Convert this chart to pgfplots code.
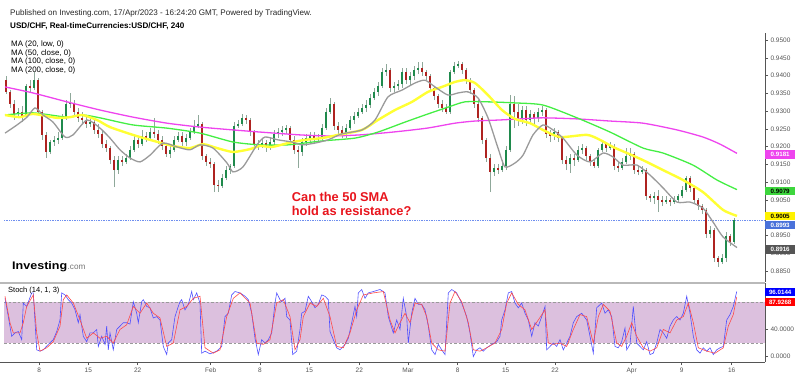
\documentclass[border=0pt]{standalone}
\usepackage{graphicx}
\usepackage{pgfplots}
\pgfplotsset{compat=1.18}
\usepackage{pgfplotstable}
\usepackage{fontspec}
\setmainfont{Liberation Sans}
\definecolor{upc}{HTML}{1F8A4C}
\definecolor{dnc}{HTML}{AE2320}
\definecolor{wick}{HTML}{8FA89A}
\definecolor{ma20}{HTML}{9A9A9A}
\definecolor{ma50}{HTML}{FFFF33}
\definecolor{ma100}{HTML}{44EE44}
\definecolor{ma200}{HTML}{EE44EE}
\definecolor{dotb}{HTML}{6F8FEF}
\definecolor{band}{HTML}{DCC0DE}
\definecolor{kcol}{HTML}{5050FF}
\definecolor{dcol}{HTML}{FF4A4A}
\definecolor{axg}{HTML}{555555}
\definecolor{annred}{HTML}{E8141C}
\definecolor{boxblue}{HTML}{4A72DA}

\pgfplotstableread{
x o h l c
6 0.9387 0.9399 0.9348 0.9354
10 0.9354 0.9359 0.9309 0.9320
14 0.9320 0.9331 0.9275 0.9292
18 0.9292 0.9309 0.9281 0.9297
22 0.9297 0.9314 0.9269 0.9286
26 0.9286 0.9376 0.9281 0.9371
30 0.9371 0.9387 0.9354 0.9365
34 0.9365 0.9410 0.9359 0.9387
38 0.9387 0.9393 0.9292 0.9297
42 0.9297 0.9303 0.9219 0.9233
46 0.9233 0.9241 0.9168 0.9185
50 0.9185 0.9219 0.9179 0.9213
54 0.9213 0.9230 0.9202 0.9219
58 0.9219 0.9241 0.9207 0.9224
62 0.9224 0.9292 0.9219 0.9281
66 0.9281 0.9331 0.9275 0.9320
70 0.9320 0.9351 0.9309 0.9323
74 0.9323 0.9331 0.9286 0.9297
78 0.9297 0.9309 0.9269 0.9281
82 0.9281 0.9297 0.9264 0.9275
86 0.9275 0.9286 0.9252 0.9264
90 0.9264 0.9281 0.9255 0.9269
94 0.9269 0.9275 0.9236 0.9247
98 0.9247 0.9264 0.9224 0.9236
102 0.9236 0.9247 0.9196 0.9207
106 0.9207 0.9219 0.9185 0.9196
110 0.9196 0.9202 0.9151 0.9162
114 0.9162 0.9174 0.9086 0.9134
118 0.9134 0.9174 0.9123 0.9162
122 0.9162 0.9174 0.9146 0.9157
126 0.9157 0.9179 0.9151 0.9168
130 0.9168 0.9202 0.9162 0.9191
134 0.9191 0.9236 0.9185 0.9219
138 0.9219 0.9230 0.9196 0.9207
142 0.9207 0.9247 0.9202 0.9230
146 0.9230 0.9241 0.9213 0.9224
150 0.9224 0.9252 0.9219 0.9241
154 0.9241 0.9281 0.9224 0.9236
158 0.9236 0.9247 0.9207 0.9219
162 0.9219 0.9230 0.9191 0.9202
166 0.9202 0.9207 0.9171 0.9179
170 0.9179 0.9202 0.9168 0.9191
174 0.9191 0.9230 0.9185 0.9219
178 0.9219 0.9241 0.9213 0.9230
182 0.9230 0.9241 0.9202 0.9213
186 0.9213 0.9236 0.9202 0.9224
190 0.9224 0.9252 0.9219 0.9241
194 0.9241 0.9275 0.9236 0.9258
198 0.9258 0.9289 0.9252 0.9264
202 0.9264 0.9269 0.9162 0.9174
206 0.9174 0.9179 0.9146 0.9157
210 0.9157 0.9168 0.9140 0.9151
214 0.9151 0.9157 0.9072 0.9092
218 0.9092 0.9106 0.9072 0.9089
222 0.9089 0.9123 0.9084 0.9112
226 0.9112 0.9146 0.9106 0.9134
230 0.9134 0.9151 0.9123 0.9146
234 0.9146 0.9269 0.9140 0.9258
238 0.9258 0.9275 0.9252 0.9264
242 0.9264 0.9292 0.9258 0.9281
246 0.9281 0.9289 0.9264 0.9275
250 0.9275 0.9281 0.9230 0.9241
254 0.9241 0.9247 0.9196 0.9207
258 0.9207 0.9219 0.9191 0.9205
262 0.9205 0.9224 0.9196 0.9210
266 0.9210 0.9219 0.9185 0.9199
270 0.9199 0.9224 0.9191 0.9213
274 0.9213 0.9247 0.9202 0.9236
278 0.9236 0.9252 0.9224 0.9241
282 0.9241 0.9258 0.9230 0.9247
286 0.9247 0.9261 0.9236 0.9252
290 0.9252 0.9258 0.9207 0.9219
294 0.9219 0.9230 0.9179 0.9191
298 0.9191 0.9202 0.9140 0.9185
302 0.9185 0.9224 0.9174 0.9213
306 0.9213 0.9236 0.9202 0.9224
310 0.9224 0.9241 0.9213 0.9230
314 0.9230 0.9241 0.9207 0.9219
318 0.9219 0.9236 0.9210 0.9224
322 0.9224 0.9264 0.9219 0.9252
326 0.9252 0.9309 0.9247 0.9297
330 0.9297 0.9337 0.9292 0.9320
334 0.9320 0.9326 0.9247 0.9258
338 0.9258 0.9269 0.9236 0.9247
342 0.9247 0.9258 0.9224 0.9236
346 0.9236 0.9264 0.9224 0.9252
350 0.9252 0.9286 0.9247 0.9275
354 0.9275 0.9297 0.9264 0.9286
358 0.9286 0.9309 0.9281 0.9297
362 0.9297 0.9320 0.9292 0.9309
366 0.9309 0.9331 0.9297 0.9317
370 0.9317 0.9348 0.9309 0.9337
374 0.9337 0.9365 0.9331 0.9354
378 0.9354 0.9382 0.9343 0.9371
382 0.9371 0.9421 0.9365 0.9410
386 0.9410 0.9433 0.9399 0.9416
390 0.9416 0.9421 0.9354 0.9365
394 0.9365 0.9382 0.9354 0.9371
398 0.9371 0.9387 0.9359 0.9376
402 0.9376 0.9421 0.9365 0.9410
406 0.9410 0.9421 0.9376 0.9387
410 0.9387 0.9410 0.9371 0.9399
414 0.9399 0.9427 0.9387 0.9416
418 0.9416 0.9438 0.9404 0.9421
422 0.9421 0.9438 0.9399 0.9410
426 0.9410 0.9416 0.9387 0.9399
430 0.9399 0.9404 0.9354 0.9365
434 0.9365 0.9371 0.9331 0.9343
438 0.9343 0.9348 0.9309 0.9320
442 0.9320 0.9331 0.9297 0.9309
446 0.9309 0.9320 0.9292 0.9297
450 0.9297 0.9416 0.9292 0.9410
454 0.9410 0.9438 0.9404 0.9427
458 0.9427 0.9441 0.9421 0.9433
462 0.9433 0.9438 0.9404 0.9416
466 0.9416 0.9421 0.9376 0.9387
470 0.9387 0.9393 0.9348 0.9359
474 0.9359 0.9365 0.9309 0.9320
478 0.9320 0.9331 0.9269 0.9281
482 0.9281 0.9286 0.9207 0.9219
486 0.9219 0.9224 0.9157 0.9168
490 0.9168 0.9179 0.9072 0.9129
494 0.9129 0.9151 0.9117 0.9140
498 0.9140 0.9151 0.9123 0.9134
502 0.9134 0.9162 0.9129 0.9146
506 0.9146 0.9202 0.9134 0.9191
510 0.9191 0.9345 0.9185 0.9320
514 0.9320 0.9343 0.9252 0.9297
518 0.9297 0.9320 0.9258 0.9281
522 0.9281 0.9314 0.9264 0.9303
526 0.9303 0.9314 0.9258 0.9275
530 0.9275 0.9303 0.9264 0.9292
534 0.9292 0.9297 0.9264 0.9281
538 0.9281 0.9309 0.9269 0.9297
542 0.9297 0.9314 0.9286 0.9303
546 0.9303 0.9309 0.9224 0.9236
550 0.9236 0.9247 0.9213 0.9230
554 0.9230 0.9252 0.9219 0.9241
558 0.9241 0.9247 0.9213 0.9224
562 0.9224 0.9230 0.9151 0.9162
566 0.9162 0.9174 0.9134 0.9151
570 0.9151 0.9179 0.9126 0.9168
574 0.9168 0.9179 0.9146 0.9162
578 0.9162 0.9202 0.9157 0.9191
582 0.9191 0.9207 0.9179 0.9196
586 0.9196 0.9202 0.9162 0.9174
590 0.9174 0.9179 0.9146 0.9157
594 0.9157 0.9162 0.9140 0.9146
598 0.9146 0.9196 0.9140 0.9191
602 0.9191 0.9219 0.9185 0.9207
606 0.9207 0.9213 0.9185 0.9196
610 0.9196 0.9213 0.9191 0.9202
614 0.9202 0.9207 0.9134 0.9146
618 0.9146 0.9157 0.9129 0.9140
622 0.9140 0.9168 0.9134 0.9157
626 0.9157 0.9196 0.9151 0.9174
630 0.9174 0.9196 0.9162 0.9179
634 0.9179 0.9185 0.9123 0.9134
638 0.9134 0.9146 0.9120 0.9129
642 0.9129 0.9146 0.9123 0.9134
646 0.9134 0.9140 0.9050 0.9061
650 0.9061 0.9067 0.9044 0.9055
654 0.9055 0.9072 0.9039 0.9061
658 0.9061 0.9078 0.9016 0.9050
662 0.9050 0.9061 0.9033 0.9044
666 0.9044 0.9061 0.9039 0.9050
670 0.9050 0.9055 0.9033 0.9044
674 0.9044 0.9061 0.9039 0.9050
678 0.9050 0.9067 0.9044 0.9061
682 0.9061 0.9089 0.9055 0.9078
686 0.9078 0.9117 0.9072 0.9112
690 0.9112 0.9117 0.9072 0.9084
694 0.9084 0.9089 0.9039 0.9050
698 0.9050 0.9055 0.9022 0.9033
702 0.9033 0.9039 0.9010 0.9022
706 0.9022 0.9027 0.8943 0.8954
710 0.8954 0.8977 0.8943 0.8965
714 0.8965 0.8971 0.8875 0.8887
718 0.8887 0.8892 0.8861 0.8875
722 0.8875 0.8898 0.8870 0.8887
726 0.8887 0.8960 0.8875 0.8949
730 0.8949 0.8954 0.8920 0.8932
734 0.8932 0.8999 0.8926 0.8993
}\candles

\pgfplotstableread{
x v
5 0.9238
17 0.9261
27 0.9283
35 0.9309
43 0.9289
53 0.9269
65 0.9227
73 0.9233
87 0.9275
100 0.9252
110 0.9224
120 0.9191
130 0.9168
140 0.9157
150 0.9176
163 0.9210
177 0.9199
190 0.9191
200 0.9205
213 0.9196
227 0.9154
233 0.9129
243 0.9143
257 0.9205
265 0.9227
278 0.9219
292 0.9213
302 0.9205
315 0.9210
328 0.9219
342 0.9236
362 0.9247
375 0.9275
388 0.9340
402 0.9359
415 0.9379
425 0.9387
435 0.9368
448 0.9345
458 0.9351
468 0.9354
478 0.9337
488 0.9281
498 0.9196
505 0.9143
515 0.9154
523 0.9176
533 0.9233
543 0.9261
553 0.9247
563 0.9224
577 0.9176
590 0.9157
603 0.9182
613 0.9171
623 0.9148
637 0.9148
650 0.9120
663 0.9084
677 0.9044
690 0.9044
703 0.9027
713 0.8988
723 0.8946
737 0.8916
}\maA

\pgfplotstableread{
x v
5 0.9289
20 0.9283
33 0.9292
57 0.9281
70 0.9283
82 0.9289
97 0.9275
110 0.9255
133 0.9233
150 0.9219
173 0.9202
190 0.9196
203 0.9207
217 0.9196
233 0.9185
250 0.9193
260 0.9202
272 0.9199
288 0.9210
305 0.9219
322 0.9224
338 0.9233
362 0.9247
378 0.9275
395 0.9303
412 0.9326
428 0.9354
442 0.9368
455 0.9382
465 0.9387
475 0.9379
488 0.9345
502 0.9303
515 0.9278
530 0.9266
543 0.9247
560 0.9227
587 0.9233
600 0.9219
613 0.9199
627 0.9182
643 0.9162
663 0.9134
683 0.9106
703 0.9072
723 0.9022
737 0.9005
}\maB

\pgfplotstableread{
x v
5 0.9289
33 0.9295
67 0.9283
83 0.9289
100 0.9281
133 0.9261
167 0.9252
200 0.9238
233 0.9213
260 0.9205
288 0.9205
322 0.9216
355 0.9224
378 0.9241
405 0.9269
428 0.9292
448 0.9311
465 0.9326
488 0.9326
515 0.9323
543 0.9317
577 0.9281
610 0.9241
643 0.9196
663 0.9182
693 0.9148
717 0.9106
737 0.9079
}\maC

\pgfplotstableread{
x v
5 0.9368
33 0.9351
67 0.9326
100 0.9303
133 0.9283
167 0.9266
200 0.9255
233 0.9247
260 0.9241
300 0.9233
330 0.9230
360 0.9233
393 0.9241
427 0.9252
455 0.9266
475 0.9272
500 0.9275
520 0.9278
543 0.9281
577 0.9278
610 0.9272
643 0.9266
677 0.9247
703 0.9227
720 0.9207
737 0.9181
}\maD

\pgfplotstableread{
x k
5 86
8.3 59
11.7 30
15 35
18.3 37
21.7 25
23.3 79
26.7 74
31.7 94
33.3 94
36.7 10
40 8
43.3 10
48.3 18
53.3 25
56.7 37
60 54
61.7 94
65 91
68.3 84
71.7 79
75 69
78.3 50
80 62
83.3 30
86.7 22
90 35
93.3 35
96.7 40
98.3 15
101.7 30
105 18
106.7 45
108.3 10
110 35
113.3 10
116.7 40
120 45
123.3 50
126.7 50
130 48
133.3 81
136.7 64
138.3 50
141.7 81
143.3 84
146.7 74
150 72
153.3 57
156.7 59
160 54
163.3 15
166.7 3
168.3 20
171.7 25
175 59
178.3 74
180 81
181.7 84
185 69
188.3 77
191.7 96
193.3 84
196.7 94
200 79
201.7 5
205 8
210 4
216.7 8
221.7 15
225 59
228.3 64
231.7 91
235 96
240 94
245 89
248.3 84
251.7 64
255 27
258.3 3
261.7 25
265 20
268.3 25
271.7 35
275 79
276.7 94
280 84
281.7 81
285 86
286.7 59
290 54
292.7 3
296.7 8
300 40
301.7 64
305 67
308.3 89
311.7 81
315 72
318.3 77
321.7 91
325 89
328.3 84
330 37
333.3 25
336.7 13
340 10
345 18
348.3 27
351.7 50
355 74
356.7 59
358.3 94
361.7 99
365 86
368.3 94
373.3 96
380 99
383.3 96
385 94
388.3 59
393.3 35
396.7 54
400 40
403.3 86
406.7 59
408.3 20
411.7 64
415 86
418.3 77
421.7 77
425 69
428.3 45
431.7 10
435 3
438.3 18
441.7 10
445 3
448.3 94
451.7 99
456.7 94
461.7 79
466.7 59
470 35
473.3 0
476.7 10
480 13
483.3 8
486.7 13
491.7 18
496.7 22
500 30
501.7 54
505 69
508.3 94
511.7 96
515 79
518.3 72
521.7 79
525 64
528.3 54
531.7 30
535 50
538.3 45
541.7 59
545 74
546.7 10
550 15
553.3 20
556.7 15
560 25
563.3 10
566.7 20
570 30
573.3 50
576.7 59
581.7 64
586.7 54
590 30
593.3 5
596.7 72
601.7 79
605 64
608.3 69
611.7 59
615 15
618.3 13
621.7 22
625 42
626.7 10
630 18
633.3 74
636.7 20
640 15
643.3 10
646.7 22
650 3
653.3 5
656.7 20
660 40
663.3 35
666.7 27
670 45
673.3 54
676.7 59
680 54
683.3 64
686.7 89
690 64
693.3 30
696.7 10
700 5
703.3 13
706.7 8
710 13
713.3 3
716.7 10
720 13
723.3 15
726.7 54
730 62
733.3 74
736.7 96
}\stochK

\pgfplotstableread{
x d
5 89
10 50
13.3 35
20 35
23.3 50
26.7 74
33.3 91
36.7 35
40 8
46.7 13
53.3 22
60 45
63.3 84
66.7 91
73.3 79
80 54
86.7 27
93.3 35
100 27
106.7 30
113.3 20
120 40
126.7 47
133.3 74
140 64
146.7 79
153.3 64
160 57
166.7 15
173.3 20
180 69
186.7 74
193.3 86
200 89
205 13
213.3 5
220 10
226.7 59
233.3 86
240 94
250 79
256.7 20
263.3 18
270 25
276.7 79
283.3 84
290 59
295 10
300 25
303.3 59
310 79
316.7 74
323.3 86
330 59
336.7 15
343.3 13
350 35
356.7 69
363.3 91
373.3 94
383.3 96
390 54
395 35
400 50
405 64
410 50
415 79
421.7 77
426.7 59
431.7 20
438.3 10
445 8
450 79
455 96
461.7 81
468.3 50
473.3 10
480 8
486.7 13
495 20
501.7 40
506.7 79
511.7 94
518.3 77
525 69
531.7 40
538.3 54
545 69
548.3 20
553.3 18
560 20
566.7 15
573.3 40
580 62
586.7 59
593.3 20
598.3 59
603.3 77
610 67
616.7 20
621.7 15
626.7 30
631.7 50
636.7 30
643.3 13
650 8
656.7 13
663.3 40
670 35
676.7 54
683.3 59
688.3 79
693.3 50
698.3 13
706.7 8
715 5
723.3 13
728.3 45
733.3 62
736.7 88
}\stochD

\pgfplotsset{/pgf/number format/assume math mode=true}

\begin{document}
\begin{tikzpicture}[x=1pt,y=1pt]
\useasboundingbox (0pt,0pt) rectangle (800pt,376pt);

% ---------------- main price panel ----------------
\begin{axis}[
  at={(0pt,94pt)}, anchor=south west, scale only axis,
  width=765pt, height=249pt,
  xmin=0, xmax=765, ymin=0.88191, ymax=0.95197,
  axis x line=none, axis y line*=right,
  y axis line style={draw=axg, line width=0.6pt, -},
  ytick={0.885,0.890,0.895,0.900,0.905,0.910,0.915,0.920,0.925,0.930,0.935,0.940,0.945,0.950},
  scaled y ticks=false,
  yticklabel style={font=\fontsize{6.5}{7}\selectfont, text=axg,
    /pgf/number format/fixed, /pgf/number format/fixed zerofill,
    /pgf/number format/precision=4, xshift=-1pt},
  tick align=outside, major tick length=3pt,
  tick style={draw=axg, line width=0.5pt},
]
\addplot[dotb, densely dotted, line width=0.7pt] coordinates {(4,0.8993) (765,0.8993)};
% wicks
\addplot[draw=none, mark=none,
  error bars/.cd, y dir=plus, y explicit, error mark=none,
  error bar style={draw=wick, line width=0.7pt}]
  table[x=x, y=l, y error expr=\thisrow{h}-\thisrow{l}] {\candles};
% up bodies
\addplot[draw=none, mark=none,
  restrict expr to domain={\thisrow{c}-\thisrow{o}}{0:1},
  error bars/.cd, y dir=plus, y explicit, error mark=none,
  error bar style={draw=upc, line width=2.4pt}]
  table[x=x, y=o, y error expr=\thisrow{c}-\thisrow{o}] {\candles};
% down bodies
\addplot[draw=none, mark=none,
  restrict expr to domain={\thisrow{o}-\thisrow{c}}{0:1},
  error bars/.cd, y dir=plus, y explicit, error mark=none,
  error bar style={draw=dnc, line width=2.4pt}]
  table[x=x, y=c, y error expr=\thisrow{o}-\thisrow{c}] {\candles};
% moving averages
\addplot[ma200, line width=1.3pt, smooth, tension=0.4] table[x=x,y=v] {\maD};
\addplot[ma100, line width=1.3pt, smooth, tension=0.4] table[x=x,y=v] {\maC};
\addplot[ma50, line width=2.4pt, smooth, tension=0.4] table[x=x,y=v] {\maB};
\addplot[ma20, line width=1.3pt, smooth, tension=0.4] table[x=x,y=v] {\maA};
\end{axis}

% ---------------- stochastic panel ----------------
\begin{axis}[
  at={(0pt,14pt)}, anchor=south west, scale only axis,
  width=765pt, height=79pt,
  xmin=0, xmax=765, ymin=-8, ymax=108.6,
  axis x line*=bottom, axis y line*=right,
  x axis line style={draw=axg, line width=0.6pt, -},
  y axis line style={draw=axg, line width=0.6pt, -},
  xtick={39.3,88.3,137.7,210.7,260,309.3,359.3,408,457.7,505.7,555,631.7,681.7,731.7},
  xticklabels={8,15,22,Feb,8,15,22,Mar,8,15,22,Apr,9,16},
  ytick={0,40}, yticklabels={0.0000,40.0000},
  xticklabel style={font=\fontsize{6.5}{7}\selectfont, text=axg, yshift=1pt},
  yticklabel style={font=\fontsize{6.5}{7}\selectfont, text=axg, xshift=-1pt},
  tick align=outside, major tick length=3pt,
  tick style={draw=axg, line width=0.5pt},
]
\fill[band] (axis cs:4,20) rectangle (axis cs:765,80);
\draw[gray!80, line width=0.7pt, dash pattern=on 2.5pt off 2pt] (axis cs:4,80) -- (axis cs:765,80);
\draw[gray!80, line width=0.7pt, dash pattern=on 2.5pt off 2pt] (axis cs:4,20) -- (axis cs:765,20);
\addplot[kcol, line width=0.6pt] table[x=x,y=k] {\stochK};
\addplot[dcol, line width=0.6pt] table[x=x,y=d] {\stochD};
\end{axis}

% separator between panels
\draw[gray!55, line width=2pt] (0pt,93pt) -- (765pt,93pt);

% ---------------- texts ----------------
\node[anchor=base west, inner sep=0pt, font=\fontsize{8.1}{9}\selectfont, text=black!85] at (10pt,361pt)
  {Published on Investing.com, 17/Apr/2023 - 16:24:20 GMT, Powered by TradingView.};
\node[anchor=base west, inner sep=0pt, font=\bfseries\fontsize{8.1}{9}\selectfont] at (10pt,348pt)
  {USD/CHF, Real-timeCurrencies:USD/CHF, 240};
\node[anchor=base west, inner sep=0pt, font=\fontsize{7.9}{8}\selectfont] at (11pt,329.3pt) {MA (20, low, 0)};
\node[anchor=base west, inner sep=0pt, font=\fontsize{7.9}{8}\selectfont] at (11pt,320.8pt) {MA (50, close, 0)};
\node[anchor=base west, inner sep=0pt, font=\fontsize{7.9}{8}\selectfont] at (11pt,312.3pt) {MA (100, close, 0)};
\node[anchor=base west, inner sep=0pt, font=\fontsize{7.9}{8}\selectfont] at (11pt,303.8pt) {MA (200, close, 0)};
\node[anchor=base west, inner sep=0pt, font=\fontsize{7.5}{8}\selectfont] at (8pt,83.5pt) {Stoch (14, 1, 3)};

\node[anchor=base west, inner sep=0pt, font=\bfseries\fontsize{12.8}{14}\selectfont, text=annred] at (291.7pt,174.7pt) {Can the 50 SMA};
\node[anchor=base west, inner sep=0pt, font=\bfseries\fontsize{12.8}{14}\selectfont, text=annred] at (291.7pt,160.7pt) {hold as resistance?};

% logo
\node[anchor=base west, inner sep=0pt, font=\bfseries\fontsize{11}{12}\selectfont] (inv) at (12pt,106.7pt) {\scalebox{1.14}[1]{Investing}};
\node[anchor=base west, inner sep=0pt, font=\fontsize{8.2}{9}\selectfont, text=black!55] at (inv.base east) {.com};

% ---------------- value boxes ----------------
\tikzset{vbox/.style={anchor=west, inner sep=0pt, minimum width=30pt, minimum height=8.5pt, font=\bfseries\fontsize{6.2}{7}\selectfont}}
\node[vbox, fill=ma200, text=white] at (765pt,221.5pt) {0.9181};
\node[vbox, fill=ma100!90!black, text=black] at (765pt,185pt) {0.9079};
\node[vbox, fill=yellow, text=black] at (765pt,160pt) {0.9005};
\node[vbox, fill=boxblue, text=white] at (765pt,151pt) {0.8993};
\node[vbox, fill=axg, text=white] at (765pt,126.5pt) {0.8916};
\node[vbox, fill=blue, text=white] at (765pt,84pt) {96.0144};
\node[vbox, fill=red, text=white] at (765pt,74pt) {87.9268};
\end{tikzpicture}
\end{document}
